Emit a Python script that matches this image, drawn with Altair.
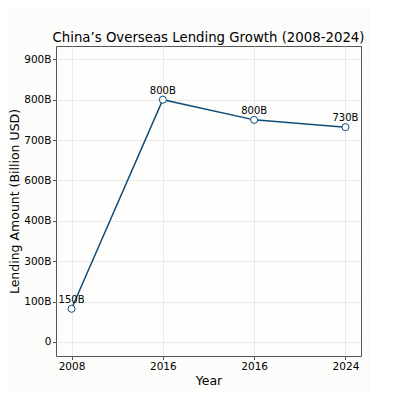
import pandas as pd
import altair as alt

# values
years = ["2008", "2016", "2016", "2024"]
plotted = [82, 600, 550, 532]          # position on the (evenly spaced) y ticks, in tick units * 100
point_labels = ["150B", "800B", "800B", "730B"]
y_tick_labels = ["0", "100B", "300B", "400B", "600B", "700B", "800B", "900B"]

df = pd.DataFrame({
    "idx": list(range(len(years))),
    "year": years,
    "amount": plotted,
    "label": point_labels,
})

x_expr = "[" + ",".join("'%s'" % y for y in years) + "][round(datum.value)]"
y_expr = "[" + ",".join("'%s'" % t for t in y_tick_labels) + "][round(datum.value / 100)]"

line_color = "#0f4d78"

x_enc = alt.X("idx:Q",
              scale=alt.Scale(domain=[-0.17, 3.17], nice=False, zero=False),
              axis=alt.Axis(title="Year", values=list(range(len(years))), labelExpr=x_expr,
                            titlePadding=2, labelPadding=2))
y_enc = alt.Y("amount:Q",
              scale=alt.Scale(domain=[-35, 733], nice=False, zero=False),
              axis=alt.Axis(title="Lending Amount (Billion USD)",
                            values=[i * 100 for i in range(len(y_tick_labels))],
                            labelExpr=y_expr, titlePadding=2, labelPadding=1.5))

base = alt.Chart(df).encode(x=x_enc, y=y_enc)

line = base.mark_line(color=line_color, strokeWidth=1.5)
points = base.mark_point(shape="circle", filled=True, fill="white",
                         stroke=line_color, strokeWidth=1, size=50, opacity=1)
labels = base.mark_text(dy=-9, fontSize=10, font="DejaVu Sans", color="black").encode(text="label:N")

chart = (line + points + labels).properties(
    width=305,
    height=310,
    padding={"left": 0, "top": 22, "right": 5, "bottom": 5},
    title=alt.TitleParams("China\u2019s Overseas Lending Growth (2008-2024)",
                          fontSize=13.3, font="DejaVu Sans", fontWeight="normal",
                          color="black", offset=2),
    background="#fcfcfa",
).configure_view(
    stroke="#555555", strokeWidth=1, fill="#fdfdfc"
).configure_axis(
    labelFont="DejaVu Sans", titleFont="DejaVu Sans",
    labelFontSize=10.5, titleFontSize=12.5, titleFontWeight="normal",
    labelColor="black", titleColor="black",
    gridColor="#e3e3e3", gridWidth=0.8,
    domain=False, tickColor="#555555", tickSize=3.5,
)

chart.save("out.html", embed_options={"renderer": "svg", "actions": False})
